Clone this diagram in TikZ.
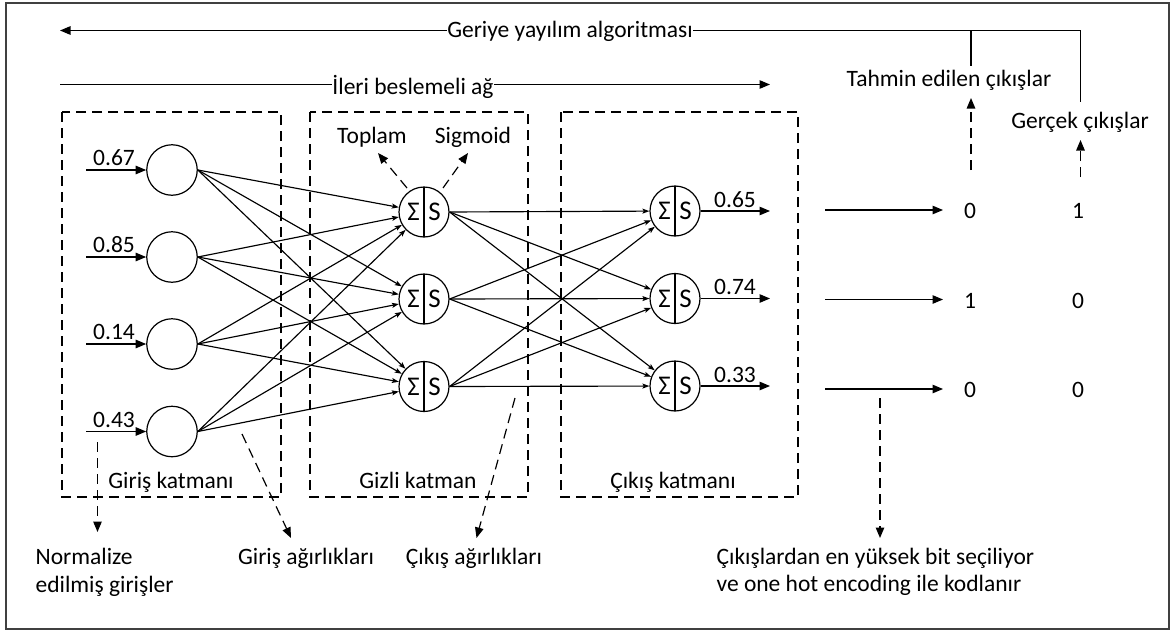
\documentclass[tikz,border=0pt]{standalone}
\usepackage{fontspec}
\setmainfont{Carlito}
\usetikzlibrary{arrows.meta}
\begin{document}
\begin{tikzpicture}[x=1pt,y=-1pt,
  every node/.style={font=\fontsize{23.5}{28}\selectfont, inner sep=0pt},
  every path/.style={line width=1.2pt},
  frame/.style={draw=black!75, line width=2pt},
  layerbox/.style={draw, dash pattern=on 10pt off 6pt},
  bigtip/.style={-{Triangle[length=10.5pt,width=8.5pt]}},
  smalltip/.style={-{Stealth[length=7pt,width=5pt,inset=1.5pt]}, line width=1.15pt},
  dasharrow/.style={bigtip, dash pattern=on 10pt off 6pt},
  neuron/.style={circle, draw, minimum size=50.5pt},
  sumsig/.style={circle, draw, minimum size=50pt,
    font=\fontsize{27}{30}\selectfont,
    path picture={\draw[line width=1.2pt] (path picture bounding box.north) -- (path picture bounding box.south);}},
]
\useasboundingbox (0,0) rectangle (1171,632);
\draw[frame] (6,2.5) rectangle (1168.5,628.5);

% layer boxes
\draw[layerbox] (62,112) rectangle (281,497);
\draw[layerbox] (310,112) rectangle (528,497);
\draw[layerbox] (561,112) rectangle (798,497);
\node[anchor=base] (lin)  at (171,488) {Giriş katmanı};
\node[anchor=base] (lhid) at (418,488) {Gizli katman};
\node[anchor=base] (lout) at (673,488) {Çıkış katmanı};

% back propagation line
\node[anchor=base] (bp) at (570,37.5) {Geriye yayılım algoritması};
\coordinate (bpL) at (60,30.5);
\coordinate (bpR) at (1080.5,30.5);
\coordinate (bpT) at (971,30.5);
\coordinate (bpTend) at (971,65.5);
\coordinate (bpRend) at (1080.5,101.5);
\draw[bigtip] (bp.west |- bpL) -- (bpL);
\draw (bp.east |- bpR) -- (bpR) -- (bpRend);
\draw (bpT) -- (bpTend);

% feed-forward line
\node[anchor=base] (ff) at (413,94) {İleri beslemeli ağ};
\coordinate (ffL) at (60,84.5);
\coordinate (ffR) at (770,84.5);
\draw (ffL) -- (ffL -| ff.west);
\draw[bigtip] (ff.east |- ffR) -- (ffR);

% predicted / actual outputs
\node[anchor=base] (pred) at (949,86.5) {Tahmin edilen çıkışlar};
\node[anchor=base] (real) at (1080,128.5) {Gerçek çıkışlar};
\coordinate (predA) at (971,170);
\coordinate (predB) at (971,98);
\coordinate (realA) at (1080.5,177);
\coordinate (realB) at (1080.5,140);
\draw[dasharrow] (predA) -- (predB);
\draw[dasharrow] (realA) -- (realB);

% input neurons
\node[neuron] (i1) at (172,170) {};
\node[neuron] (i2) at (172,257) {};
\node[neuron] (i3) at (172,344) {};
\node[neuron] (i4) at (172,431.5) {};
\foreach \n/\v in {1/0.67,2/0.85,3/0.14,4/0.43}{
  \coordinate (ia\n) at (i\n.west -| 86,0);
  \draw[bigtip] (ia\n) -- (i\n.west);
  \node[anchor=base] (iv\n) at ([yshift=4.5pt]ia\n -| 114,0) {\v};
}

% hidden neurons
\node[sumsig] (h1) at (424,212) {\makebox[21pt]{Σ}\makebox[21pt]{S}};
\node[sumsig] (h2) at (424,299) {\makebox[21pt]{Σ}\makebox[21pt]{S}};
\node[sumsig] (h3) at (424,386.5) {\makebox[21pt]{Σ}\makebox[21pt]{S}};

% output neurons
\node[sumsig] (o1) at (675,211) {\makebox[21pt]{Σ}\makebox[21pt]{S}};
\node[sumsig] (o2) at (675,298.5) {\makebox[21pt]{Σ}\makebox[21pt]{S}};
\node[sumsig] (o3) at (675,386) {\makebox[21pt]{Σ}\makebox[21pt]{S}};

% weights
\foreach \i in {1,...,4}
  \foreach \j in {1,2,3}
    \draw[smalltip] (i\i.east) -- (h\j);
\foreach \i in {1,2,3}
  \foreach \j in {1,2,3}
    \draw[smalltip] (h\i.east) -- (o\j);

% sum / sigmoid annotations
\node[anchor=base] (tp) at (372,143) {Toplam};
\node[anchor=base] (sg) at (473,143) {Sigmoid};
\coordinate (tpA) at (407,188);
\coordinate (tpB) at (378,153);
\coordinate (sgA) at (443,188);
\coordinate (sgB) at (468,153);
\draw[dasharrow] (tpA) -- (tpB);
\draw[dasharrow] (sgA) -- (sgB);

% network outputs
\foreach \n/\v in {1/0.65,2/0.74,3/0.33}{
  \coordinate (oe\n) at (o\n.east -| 770,0);
  \draw[bigtip] (o\n.east) -- (oe\n);
  \node[anchor=base] (ov\n) at ([yshift=4pt]oe\n -| 735,0) {\v};
}

% one hot encoded values
\foreach \n/\y/\p/\r in {1/210/0/1,2/299.5/1/0,3/389/0/0}{
  \coordinate (vs\n) at (825,\y);
  \coordinate (ve\n) at (943,\y);
  \draw[bigtip] (vs\n) -- (ve\n);
  \node[anchor=base] (pv\n) at (970,\y+8.5) {\p};
  \node[anchor=base] (rv\n) at (1078,\y+8.5) {\r};
}

% bottom notes (anchored on the baseline of their last line)
\node[anchor=base west, align=left] (norm) at (35,592) {Normalize\\[-0.5pt]edilmiş girişler};
\node[anchor=base] (wi) at (306,564.5) {Giriş ağırlıkları};
\node[anchor=base] (wo) at (474,564.5) {Çıkış ağırlıkları};
\node[anchor=base west, align=left] (sel) at (716,591.5) {Çıkışlardan en yüksek bit seçiliyor\\[-0.5pt]ve one hot encoding ile kodlanır};

\coordinate (nA) at (97.5,442);
\coordinate (nB) at (97.5,532);
\coordinate (wiA) at (242,434);
\coordinate (wiB) at (291,538);
\coordinate (woA) at (515,398);
\coordinate (woB) at (476.5,538);
\coordinate (sA) at (880,398);
\coordinate (sB) at (880,538);
\draw[dasharrow] (nA) -- (nB);
\draw[dasharrow] (wiA) -- (wiB);
\draw[dasharrow] (woA) -- (woB);
\draw[dasharrow] (sA) -- (sB);
\end{tikzpicture}
\end{document}
